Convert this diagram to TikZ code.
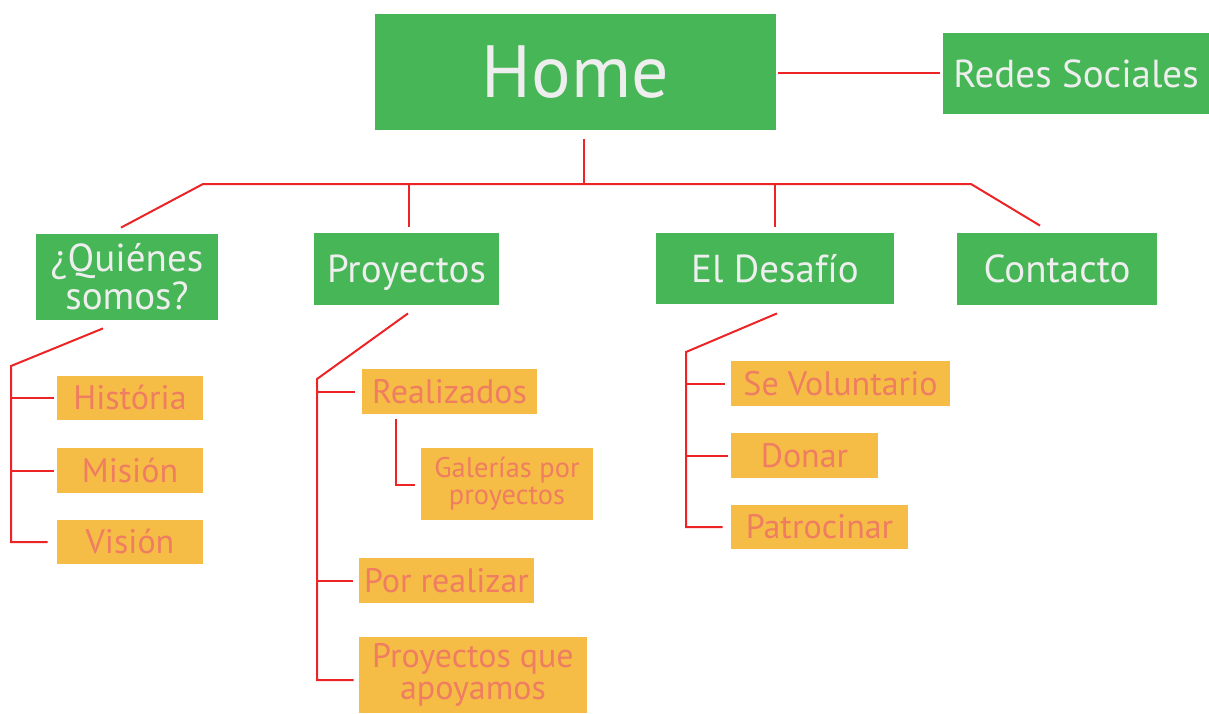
\documentclass[tikz,border=0pt]{standalone}
\usepackage{fontspec}
\setmainfont{PT Sans}
\usetikzlibrary{calc}

\definecolor{boxgreen}{HTML}{46B656}
\definecolor{boxorange}{HTML}{F5BD45}
\definecolor{labelsalmon}{HTML}{EF7D62}
\definecolor{linkred}{HTML}{EC2426}
\definecolor{labelwhite}{HTML}{EEEEEE}

\tikzset{
  greenbox/.style={fill=boxgreen, text=labelwhite, inner sep=0pt, align=center,
    font=\fontsize{19.5}{17.5}\selectfont},
  orangebox/.style={fill=boxorange, text=labelsalmon, inner sep=0pt, align=center,
    font=\fontsize{17}{16}\selectfont},
  greenline/.style={greenbox, text height=13.65pt, text depth=0pt},
  orangeline/.style={orangebox, text height=11.9pt, text depth=0pt},
  link/.style={draw=linkred, line width=1pt}
}

\begin{document}
\begin{tikzpicture}[x=0.5pt, y=-0.5pt]
  \useasboundingbox (0,0) rectangle (1209,713);

  % Top level
  \node[greenline, minimum width=200.5pt, minimum height=58pt, font=\fontsize{37}{37}\selectfont, text height=25.9pt] (home) at (575.5,72) {Home};
  \node[greenline, minimum width=133pt, minimum height=40.5pt] (redes) at (1076,73.5) {Redes Sociales};

  % Sections
  \node[greenbox, minimum width=91pt, minimum height=43pt] (quienes) at (127,277) {¿Quiénes\\somos?};
  \node[greenline, minimum width=92.5pt, minimum height=36pt] (proyectos) at (406.5,269) {Proyectos};
  \node[greenline, minimum width=119pt, minimum height=35.5pt] (desafio) at (775,268.5) {El Desafío};
  \node[greenline, minimum width=100pt, minimum height=36pt] (contacto) at (1057,269) {Contacto};

  % ¿Quienes somos?
  \node[orangeline, minimum width=73pt, minimum height=22pt] (historia) at (130,398) {História};
  \node[orangeline, minimum width=73pt, minimum height=22.5pt] (mision) at (130,470.5) {Misión};
  \node[orangeline, minimum width=73pt, minimum height=22pt] (vision) at (130,542) {Visión};

  % Proyectos
  \node[orangeline, minimum width=87.5pt, minimum height=22.5pt] (realizados) at (449.5,391.5) {Realizados};
  \node[orangebox, minimum width=86pt, minimum height=36pt, font=\fontsize{14.2}{13.5}\selectfont] (galerias) at (507,484) {Galerías por\\proyectos};
  \node[orangeline, minimum width=87.5pt, minimum height=22.5pt] (porrealizar) at (446.5,580.5) {Por realizar};
  \node[orangebox, minimum width=114pt, minimum height=38pt] (apoyamos) at (473,675) {Proyectos que\\apoyamos};

  % El Desafio
  \node[orangeline, minimum width=109.5pt, minimum height=22.5pt] (voluntario) at (840.5,383.5) {Se Voluntario};
  \node[orangeline, minimum width=73.5pt, minimum height=22.5pt] (donar) at (804.5,455.5) {Donar};
  \node[orangeline, minimum width=88.5pt, minimum height=22pt] (patrocinar) at (819.5,527) {Patrocinar};

  % Bends
  \coordinate (hub) at (584,184);
  \coordinate (barL) at (203,184);
  \coordinate (barR) at (971,184);
  \coordinate (pjoin) at (409,184);
  \coordinate (qspine) at (11,366);
  \coordinate (pspine) at (317,379);
  \coordinate (dspine) at (686,352);
  \coordinate (rspine) at (396,419);

  % Links from Home
  \draw[link] ($(home.east)+(2,1)$) -- ($(redes.west)+(-3,-0.5)$);
  \draw[link] ($(hub |- home.south)+(0,9)$) -- (hub);
  \draw[link] ($(quienes.north)+(-6,-6)$) -- (barL) -- (barR) -- ($(contacto.north)+(-17,-7)$);
  \draw[link] ($(pjoin |- proyectos.north)+(0,-6)$) -- (pjoin);
  \draw[link] ($(desafio.north)+(0,-6)$) -- (desafio.north |- hub);

  % ¿Quienes somos? branches
  \draw[link] ($(quienes.south)+(-24,8)$) -- (qspine) |- ($(vision.west)+(-9,0)$);
  \draw[link] (qspine |- historia.west) -- ($(historia.west)+(-3,0)$);
  \draw[link] (qspine |- mision.west) -- ($(mision.west)+(-3,0)$);

  % Proyectos branches
  \draw[link] ($(proyectos.south)+(1.5,8)$) -- (pspine) |- ($(apoyamos.west)+(-5,5)$);
  \draw[link] (pspine |- realizados.west) -- ($(realizados.west)+(-7,0)$);
  \draw[link] (pspine |- porrealizar.west) -- ($(porrealizar.west)+(-6,0)$);
  \draw[link] (rspine) |- ($(galerias.west)+(-6,1)$);

  % El Desafio branches
  \draw[link] ($(desafio.south)+(2,9)$) -- (dspine) |- ($(patrocinar.west)+(-8,0)$);
  \draw[link] (dspine |- voluntario.west) -- ($(voluntario.west)+(-6,0)$);
  \draw[link] (dspine |- donar.west) -- ($(donar.west)+(-3,0)$);
\end{tikzpicture}
\end{document}
